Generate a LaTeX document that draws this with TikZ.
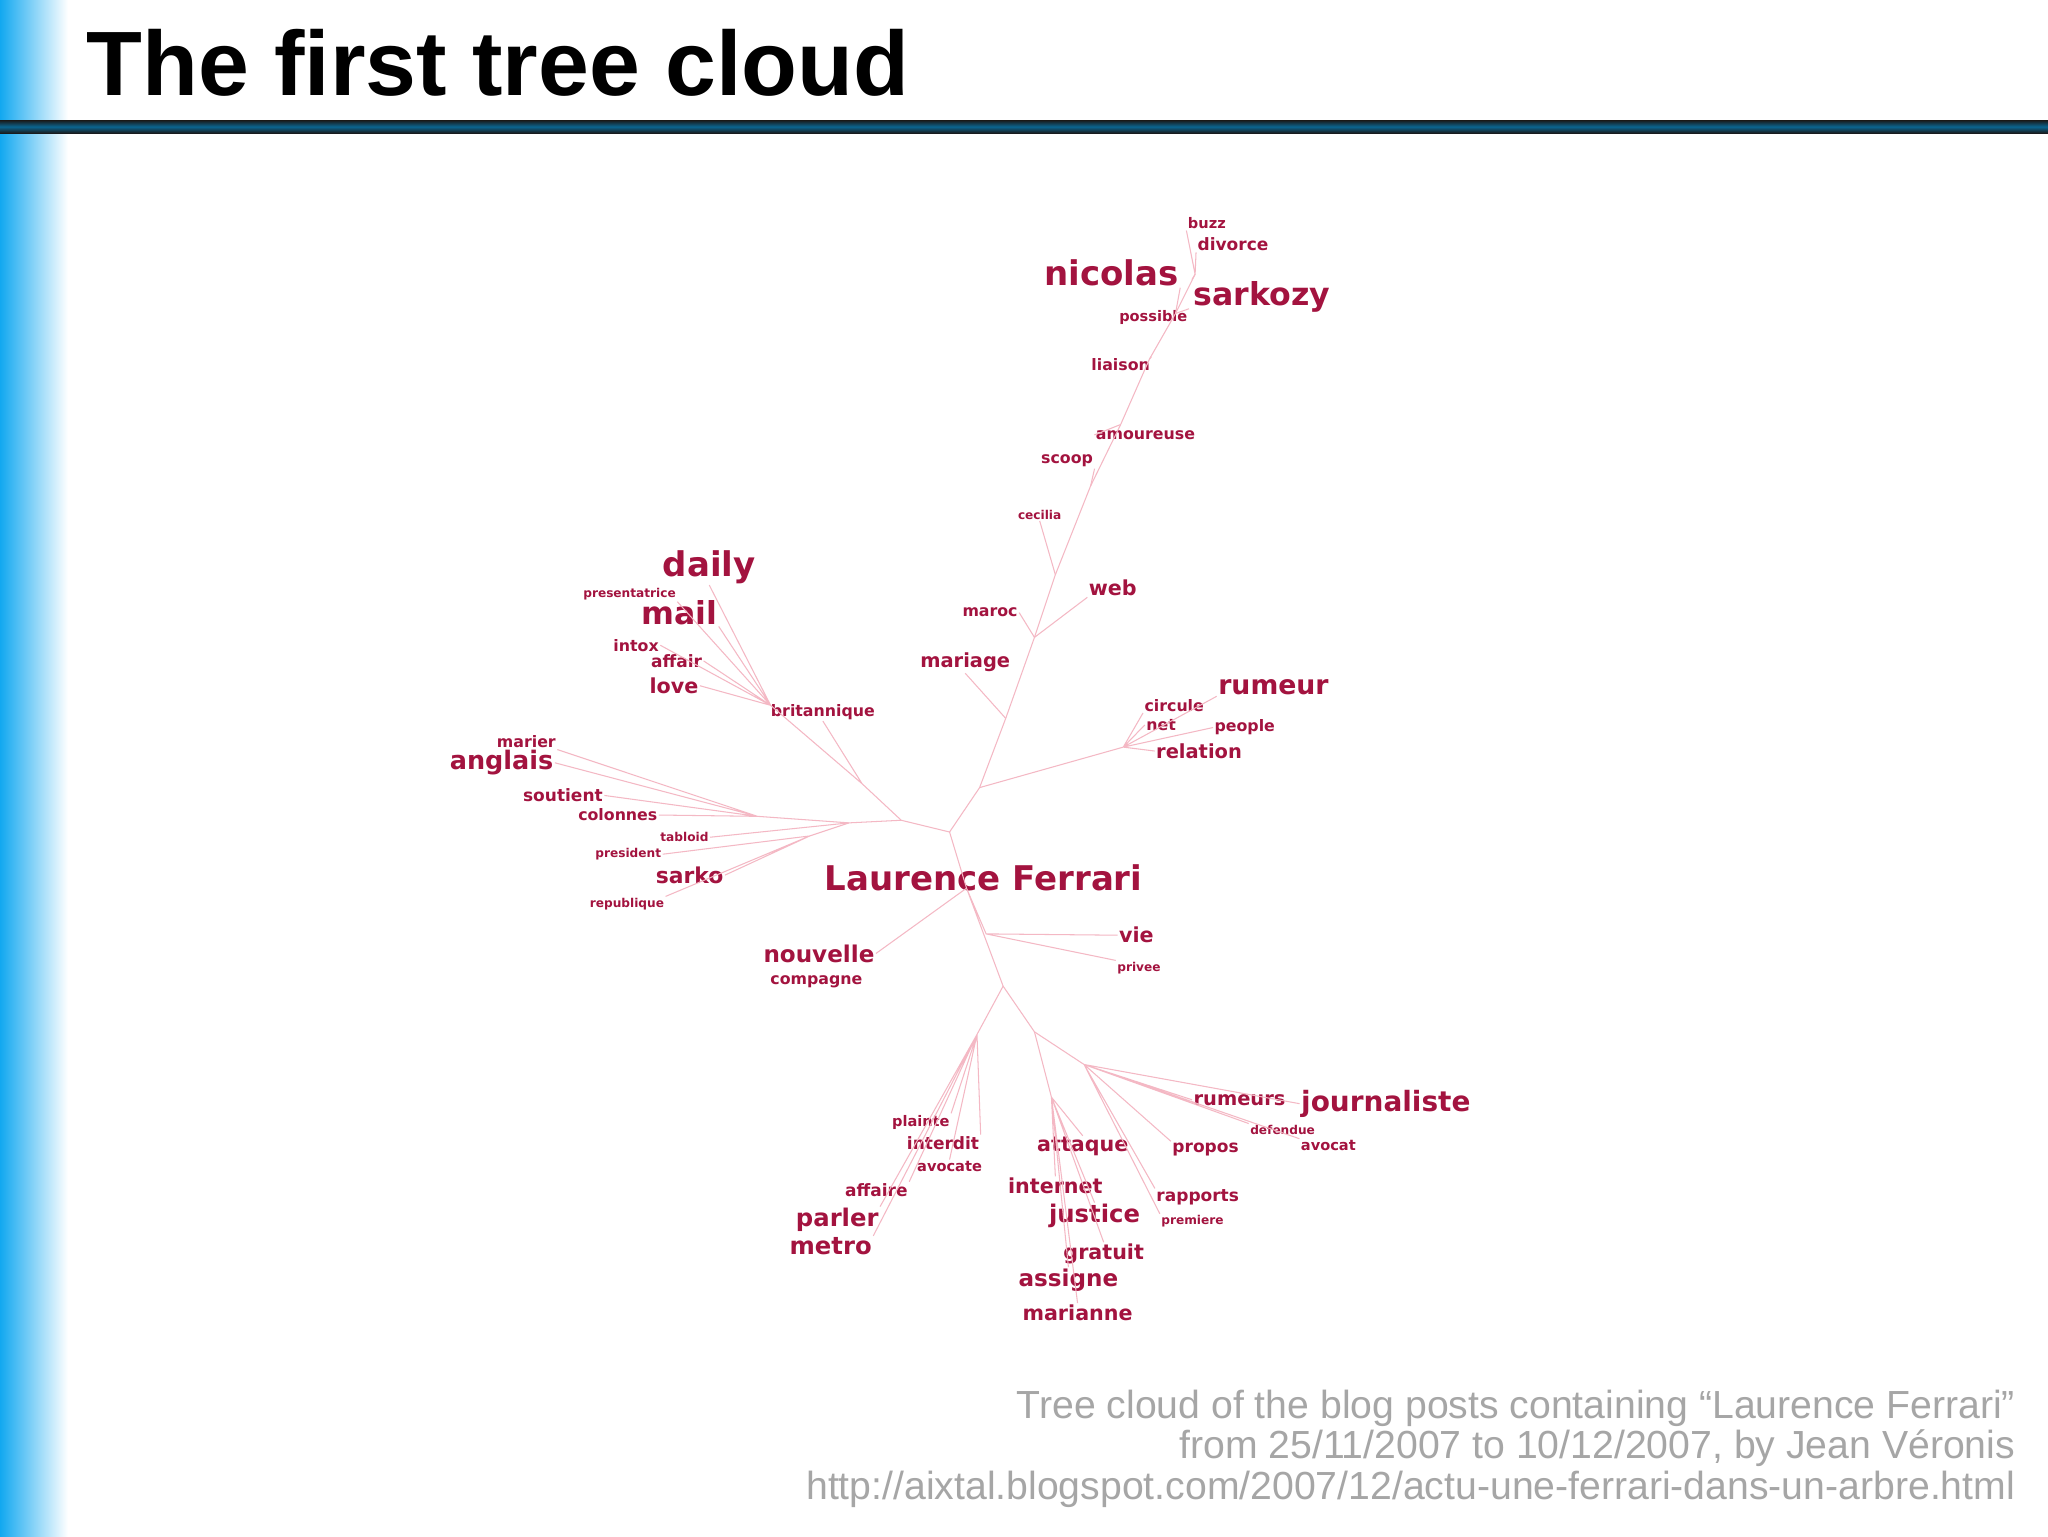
\documentclass[tikz,border=0pt]{standalone}
\usepackage{fontspec}
\setmainfont{DejaVu Sans}
\newfontfamily\capfont{Liberation Sans}
\definecolor{wc}{HTML}{A3133F}
\definecolor{ec}{HTML}{F4B8C4}
\definecolor{barblue}{HTML}{12A8F0}
\tikzset{w/.style={text=wc,inner sep=1pt,font=\bfseries},
 e/.style={draw=ec,line width=0.8pt}}
\newcommand{\W}[5]{\pgfmathsetmacro\fsz{0.93*#4}\node[w,font=\bfseries\fontsize{\fsz}{\fsz}\selectfont] (#1) at (#2,#3) {#5};}
\begin{document}
\begin{tikzpicture}[x=1pt,y=-1pt]
\useasboundingbox (0,0) rectangle (1568,1176);
\fill[white] (0,0) rectangle (1568,1176);
\shade[left color=barblue,right color=white] (0,0) rectangle (52,1176);
\shade[top color=black!90,bottom color=black!90,middle color=barblue!60!black] (0,92) rectangle (1568,102);
\node[anchor=west,font=\capfont\bfseries\fontsize{70}{72}\selectfont,inner sep=0] (title) at (66,48) {The first tree cloud};
% words
\W{buzz}{924}{171}{12}{buzz}
\W{divorce}{944}{187}{14}{divorce}
\W{nicolas}{851}{209}{28}{nicolas}
\W{sarkozy}{966}{227}{26}{sarkozy}
\W{possible}{883}{243}{12}{possible}
\W{liaison}{858}{279}{13}{liaison}
\W{amoureuse}{877}{333}{13}{amoureuse}
\W{scoop}{817}{353}{13}{scoop}
\W{cecilia}{796}{394}{10}{cecilia}
\W{daily}{543}{434}{28}{daily}
\W{presentatrice}{482}{455}{10}{presentatrice}
\W{mail}{520}{469}{26}{mail}
\W{maroc}{758}{469}{13}{maroc}
\W{web}{852}{450}{17}{web}
\W{intox}{487}{494}{13}{intox}
\W{affair}{518}{506}{14}{affair}
\W{love}{516}{525}{17}{love}
\W{mariage}{739}{507}{16}{mariage}
\W{rumeur}{975}{526}{22}{rumeur}
\W{britannique}{630}{545}{13}{britannique}
\W{circule}{899}{540}{13}{circule}
\W{net}{889}{555}{13}{net}
\W{people}{953}{557}{13}{people}
\W{marier}{403}{568}{13}{marier}
\W{anglais}{384}{584}{21}{anglais}
\W{relation}{918}{575}{16}{relation}
\W{soutient}{431}{609}{14}{soutient}
\W{colonnes}{473}{624}{13}{colonnes}
\W{tabloid}{524}{641}{10}{tabloid}
\W{president}{481}{654}{10}{president}
\W{sarko}{528}{670}{18}{sarko}
\W{LF}{753}{672}{28}{Laurence Ferrari}
\W{republique}{480}{692}{10}{republique}
\W{vie}{870}{716}{17}{vie}
\W{nouvelle}{627}{730}{19}{nouvelle}
\W{privee}{872}{741}{10}{privee}
\W{compagne}{625}{752}{13}{compagne}
\W{rumeurs}{949}{842}{16}{rumeurs}
\W{journaliste}{1061}{845}{23}{journaliste}
\W{plainte}{705}{859}{12}{plainte}
\W{defendue}{982}{865}{10}{defendue}
\W{interdit}{722}{875}{14}{interdit}
\W{attaque}{829}{878}{17}{attaque}
\W{propos}{923}{880}{14}{propos}
\W{avocat}{1017}{877}{12}{avocat}
\W{avocate}{727}{893}{12}{avocate}
\W{affaire}{671}{911}{14}{affaire}
\W{internet}{808}{908}{17}{internet}
\W{rapports}{917}{917}{14}{rapports}
\W{parler}{641}{934}{20}{parler}
\W{justice}{838}{931}{20}{justice}
\W{premiere}{913}{935}{10}{premiere}
\W{metro}{636}{954}{20}{metro}
\W{gratuit}{845}{960}{17}{gratuit}
\W{assigne}{818}{980}{19}{assigne}
\W{marianne}{825}{1005}{17}{marianne}
% internal points
\coordinate (r) at (727,637);
\coordinate (u1) at (750,603);
\coordinate (u2) at (770,550);
\coordinate (u3) at (792,488);
\coordinate (u4) at (808,440);
\coordinate (u5) at (835,372);
\coordinate (u6) at (858,325);
\coordinate (u7) at (880,275);
\coordinate (u8) at (900,240);
\coordinate (u9) at (915,210);
\coordinate (rm) at (860,572);
\coordinate (l1) at (690,628);
\coordinate (l2) at (660,600);
\coordinate (l3) at (590,540);
\coordinate (a1) at (650,630);
\coordinate (a2) at (580,625);
\coordinate (s1) at (620,640);
\coordinate (d1) at (740,680);
\coordinate (d2) at (768,755);
\coordinate (d3) at (748,792);
\coordinate (d4) at (792,790);
\coordinate (d5) at (830,815);
\coordinate (d6) at (805,840);
\begin{scope}[e]
\draw (r)--(u1)--(u2)--(u3)--(u4)--(u5)--(u6)--(u7)--(u8)--(u9);
\draw (u9)--(buzz.south west) (u9)--(divorce.south west) (u9)--(sarkozy.north west) (u8)--(nicolas.south east) (u8)--(possible.north east) (u7)--(liaison.north east);
\draw (u6)--(amoureuse.west) (u5)--(scoop.south east) (u4)--(cecilia.south) (u3)--(maroc.east) (u3)--(web.south west) (u2)--(mariage.south);
\draw (u1)--(rm) (rm)--(rumeur.south west) (rm)--(circule.south west) (rm)--(net.west) (rm)--(people.west) (rm)--(relation.west);
\draw (r)--(l1)--(l2)--(l3) (l2)--(britannique.south) (l3)--(mail.south east) (l3)--(daily.south) (l3)--(presentatrice.south east) (l3)--(intox.east) (l3)--(affair.east) (l3)--(love.east);
\draw (l1)--(a1)--(a2) (a2)--(anglais.east) (a2)--(marier.south east) (a2)--(soutient.east) (a2)--(colonnes.east) (a1)--(tabloid.east);
\draw (a1)--(s1) (s1)--(president.east) (s1)--(sarko.east) (s1)--(republique.north east);
\draw (r)--(d1) (d1)--(nouvelle.east) (d1)--(755,715)--(vie.west) (755,715)--(privee.north west) (d1)--(d2)--(d3) (d3)--(plainte.north east) (d3)--(interdit.north east) (d3)--(avocate.north) (d3)--(affaire.north east) (d3)--(parler.north east) (d3)--(metro.north east);
\draw (d2)--(d4)--(d5) (d5)--(rumeurs.west) (d5)--(journaliste.west) (d5)--(defendue.north west) (d5)--(avocat.north west) (d5)--(propos.north west) (d5)--(rapports.north west) (d5)--(premiere.north west);
\draw (d4)--(d6) (d6)--(attaque.north) (d6)--(internet.north) (d6)--(justice.north) (d6)--(gratuit.north) (d6)--(assigne.north) (d6)--(marianne.north);
\end{scope}
\node[anchor=north east,align=right,text=black!35,font=\capfont\fontsize{30}{31}\selectfont,inner sep=0] (cap) at (1543,1064) {Tree cloud of the blog posts containing “Laurence Ferrari”\\from 25/11/2007 to 10/12/2007, by Jean Véronis\\http://aixtal.blogspot.com/2007/12/actu-une-ferrari-dans-un-arbre.html};
\end{tikzpicture}
\end{document}
